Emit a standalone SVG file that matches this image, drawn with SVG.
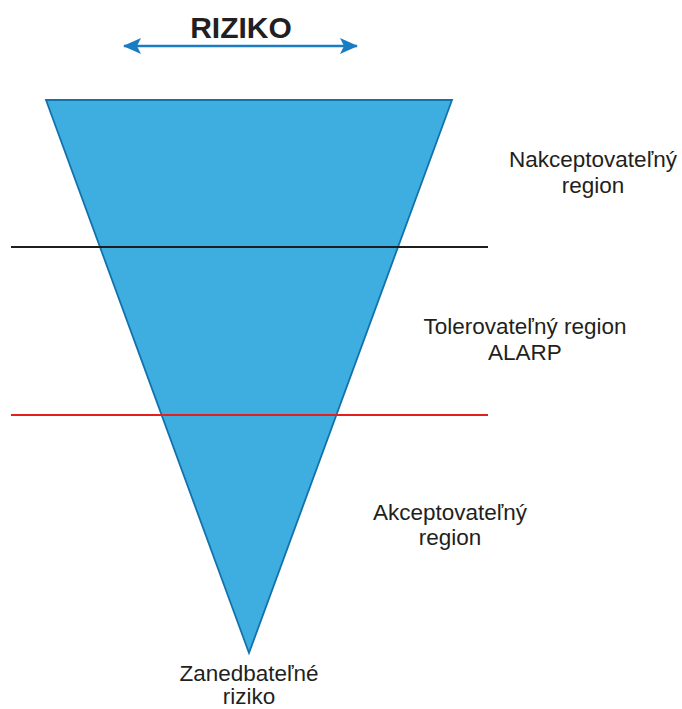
<svg xmlns="http://www.w3.org/2000/svg" width="682" height="709" viewBox="0 0 682 709">
<style>
.lbl{font-family:"Liberation Sans",Arial,sans-serif;font-size:22.5px;fill:#231f20;text-anchor:middle}
.title{font-family:"Liberation Sans",Arial,sans-serif;font-size:30px;font-weight:bold;fill:#231f20;text-anchor:middle}
</style>
<defs>
<marker id="ah" viewBox="0 0 18 16" refX="17" refY="8" markerWidth="18" markerHeight="16" markerUnits="userSpaceOnUse" orient="auto-start-reverse">
<path d="M0,0 L18,8 L0,16 L4,8 Z" fill="#1a7dc4"/>
</marker>
</defs>
<rect width="682" height="709" fill="#fff"/>
<g id="title">
<text class="title" x="241" y="38">RIZIKO</text>
</g>
<g id="triangle">
<polygon points="46,100 452,100 249,653" fill="#3eaee0" stroke="#1272ad" stroke-width="1.8" stroke-linejoin="miter"/>
</g>
<g id="connectors">
<line x1="124" y1="46" x2="357" y2="46" stroke="#1a7dc4" stroke-width="2.5" marker-start="url(#ah)" marker-end="url(#ah)"/>
<line x1="11" y1="247" x2="488" y2="247" stroke="#1e1e1e" stroke-width="2.2"/>
<line x1="11" y1="415" x2="488" y2="415" stroke="#e3201b" stroke-width="2.2"/>
</g>
<g id="nakceptovatelny">
<text class="lbl" x="593" y="167">Nakceptovateľný</text>
<text class="lbl" x="593" y="193">region</text>
</g>
<g id="tolerovatelny">
<text class="lbl" x="525" y="334">Tolerovateľný region</text>
<text class="lbl" x="525" y="360">ALARP</text>
</g>
<g id="akceptovatelny">
<text class="lbl" x="450" y="520">Akceptovateľný</text>
<text class="lbl" x="450" y="545">region</text>
</g>
<g id="zanedbatelne">
<text class="lbl" x="249" y="681">Zanedbateľné</text>
<text class="lbl" x="249" y="704">riziko</text>
</g>
</svg>
